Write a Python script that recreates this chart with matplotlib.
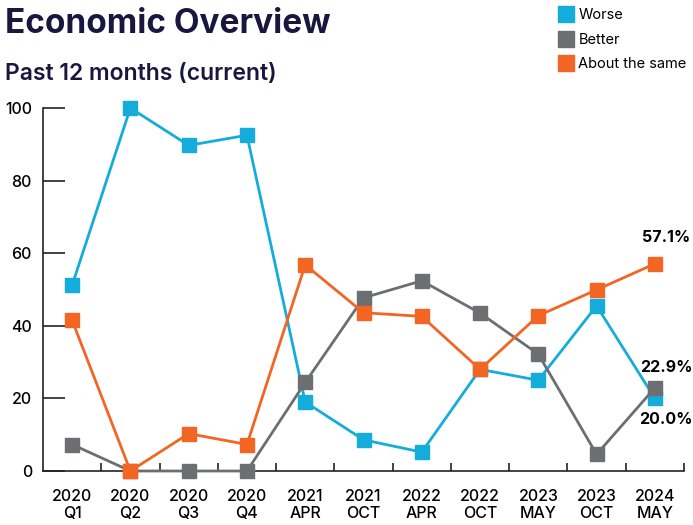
import matplotlib.pyplot as plt
from matplotlib.lines import Line2D

plt.rcParams['font.family'] = ['Inter', 'DejaVu Sans']

periods = ['2020\nQ1', '2020\nQ2', '2020\nQ3', '2020\nQ4', '2021\nAPR', '2021\nOCT',
           '2022\nAPR', '2022\nOCT', '2023\nMAY', '2023\nOCT', '2024\nMAY']
worse = [51.2, 100, 89.7, 92.5, 19, 8.6, 5.2, 28, 25, 45.5, 20.0]
better = [7.3, 0, 0, 0, 24.4, 47.7, 52.4, 43.5, 32.2, 4.6, 22.9]
same = [41.5, 0, 10.3, 7.3, 56.8, 43.6, 42.6, 28, 42.8, 49.9, 57.1]

blue = '#14ADDB'
grey = '#6D6E71'
orange = '#F26522'
navy = '#1B1640'

fig = plt.figure(figsize=(6.93, 5.25), dpi=100)
ax = fig.add_axes([43 / 693, 54 / 525, 641 / 693, 363 / 525])

x = list(range(len(periods)))
ms = 9.5
ax.plot(x, worse, color=blue, lw=2, marker='s', ms=ms, zorder=3)
ax.plot(x, better, color=grey, lw=2, marker='s', ms=ms, zorder=4)
ax.plot(x, same, color=orange, lw=2, marker='s', ms=ms, zorder=5)

ax.set_xlim(-0.5, len(periods) - 0.5)
ax.set_ylim(0, 100)
ax.set_xticks(x)
ax.set_xticklabels(periods, fontsize=11.5, fontweight='medium', linespacing=1.15)
ax.set_xticks([i + 0.5 for i in x], minor=True)
ax.tick_params(axis='x', which='major', length=0, pad=13)
ax.tick_params(axis='x', which='minor', direction='in', length=6, width=1.2, color='#222222')
ax.set_yticks([0, 20, 40, 60, 80, 100])
ax.tick_params(axis='y', direction='in', length=16, width=1.2, color='#222222',
               labelsize=11.5, pad=8)
for lab in ax.get_yticklabels():
    lab.set_fontweight('medium')

for s in ['top', 'right']:
    ax.spines[s].set_visible(False)
for s in ['left', 'bottom']:
    ax.spines[s].set_linewidth(1.2)
    ax.spines[s].set_color('#222222')
for ln in ax.lines:
    ln.set_clip_on(False)

# end labels
last = len(periods) - 1
ax.annotate(f'{same[-1]:.1f}%', (last, same[-1]), xytext=(8, 19), textcoords='offset points',
            ha='center', va='center', fontsize=11.5, fontweight='bold')
ax.annotate(f'{better[-1]:.1f}%', (last, better[-1]), xytext=(8, 14.5), textcoords='offset points',
            ha='center', va='center', fontsize=11.5, fontweight='bold')
ax.annotate(f'{worse[-1]:.1f}%', (last, worse[-1]), xytext=(8, -15), textcoords='offset points',
            ha='center', va='center', fontsize=11.5, fontweight='bold')

fig.text(5 / 693, 1 - 33 / 525, 'Economic Overview', fontsize=24, fontweight='bold',
         color=navy)
fig.text(5 / 693, 1 - 80 / 525, 'Past 12 months (current)', fontsize=16.5, fontweight='semibold',
         color=navy)

handles = [Line2D([], [], ls='none', marker='s', ms=11, color=c) for c in (blue, grey, orange)]
fig.legend(handles, ['Worse', 'Better', 'About the same'], loc='upper left',
           bbox_to_anchor=(544 / 693, 1 + 5 / 525), frameon=False, fontsize=10.5,
           handletextpad=0.25, labelspacing=0.72, handlelength=1.2)

fig.savefig('out.png', dpi=100)
